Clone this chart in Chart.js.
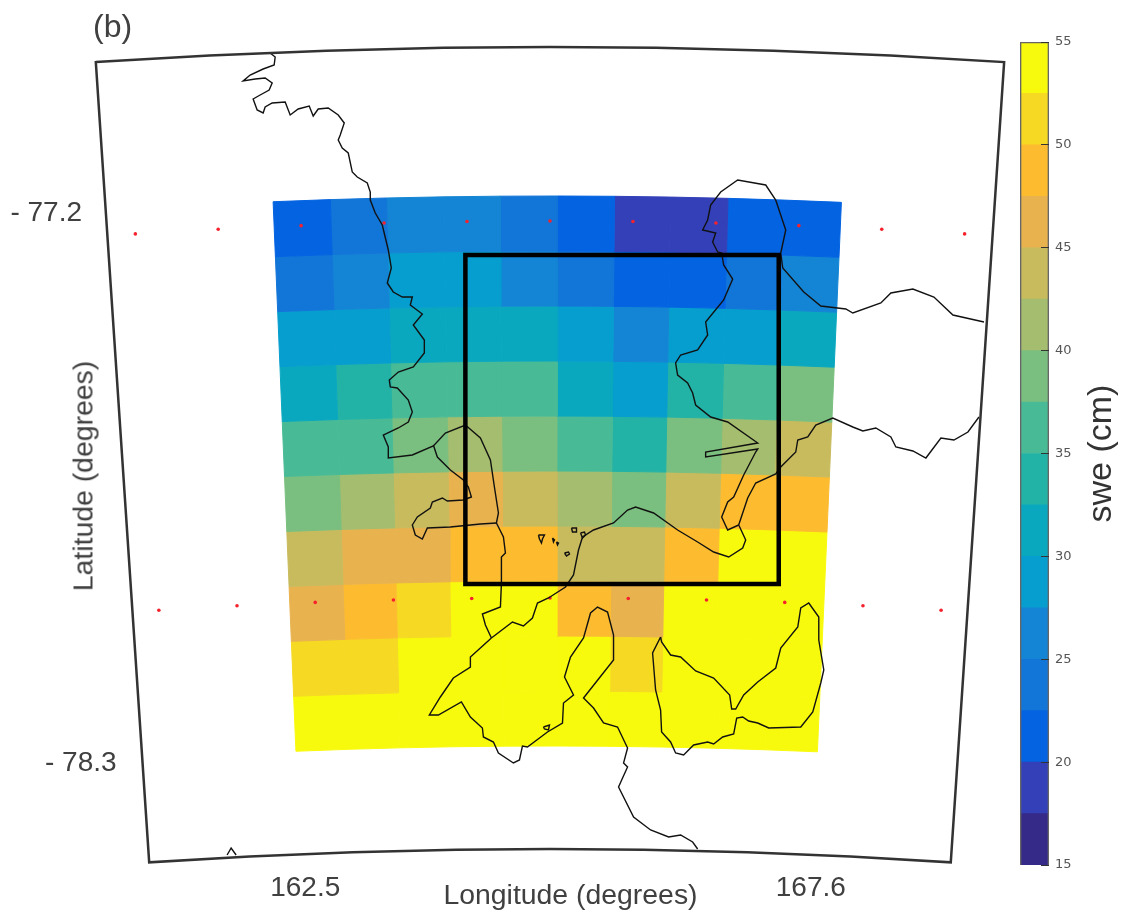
<!DOCTYPE html>
<html>
<head>
<meta charset="utf-8">
<title>swe map</title>
<script src="https://cdn.jsdelivr.net/npm/chart.js@4.4.1/dist/chart.umd.min.js"></script>
<style>
    body { margin: 0; background: #fff; width: 1126px; height: 915px; position: relative; overflow: hidden; }
    canvas { position: absolute; top: 0; }
    #mapChart { left: 0; }
    #barChart { left: 1010px; }
    #panelLabel { position: absolute; left: 93px; top: 8px; font: 32px "Liberation Sans", Arial, sans-serif; color: #404040; }
    #latLabel { position: absolute; left: 83px; top: 476px; white-space: nowrap; font: 28.4px "Liberation Sans", Arial, sans-serif; color: #404040;
        transform: translate(-50%, -50%) rotate(-90deg); }
</style>
</head>
<body>
<canvas id="mapChart" width="1015" height="915"></canvas>
<canvas id="barChart" width="116" height="915"></canvas>
<div id="panelLabel">(b)</div>
<div id="latLabel">Latitude (degrees)</div>
<script>
// Model grid (swe in cm), north row first
const gridLonEdges = [162.34, 162.89, 163.43, 163.98, 164.52, 165.07, 165.62, 166.16, 166.71, 167.25, 167.80];
const gridLatEdges = [-77.166, -77.276, -77.386, -77.496, -77.606, -77.716, -77.826, -77.936, -78.046, -78.156, -78.266];
const sweValues = [
    [21, 24, 26, 26, 24, 21, 19, 19, 21, 21],
    [24, 26, 29, 29, 26, 24, 21, 21, 24, 26],
    [29, 29, 31, 31, 31, 29, 26, 29, 29, 31],
    [31, 34, 36, 36, 36, 31, 29, 34, 36, 39],
    [36, 36, 39, 41, 39, 36, 34, 39, 41, 44],
    [39, 41, 44, 46, 44, 41, 39, 44, 49, 49],
    [44, 46, 46, 49, 49, 44, 44, 49, 54, 54],
    [46, 49, 51, 54, 54, 49, 46, 54, 54, 54],
    [51, 51, 54, 54, 54, 54, 51, 54, 54, 54],
    [54, 54, 54, 54, 54, 54, 54, 54, 54, 54]
];

// Colour bar
const barLevels = [15, 17.5, 20, 22.5, 25, 27.5, 30, 32.5, 35, 37.5, 40, 42.5, 45, 47.5, 50, 52.5, 55];
const barColors = ['#352a87', '#3340b8', '#0363e1', '#1275d8', '#1485d4', '#069dcf', '#0aa8bf', '#22b2a6',
    '#48bb96', '#7abf7f', '#a5bd6e', '#c8bb5e', '#e8b24f', '#fdbc2f', '#f5d923', '#f8fa0d'];
const barTicks = [15, 20, 25, 30, 35, 40, 45, 50, 55];

// Axis ticks
const lonTicks = [162.5, 167.55];
const lonTickLabels = ['162.5', '167.6'];
const latTickLabels = { '-77.2': '- 77.2', '-78.3': '- 78.3' };

// Red station dots
const dotLons = [161, 161.8, 162.6, 163.4, 164.2, 165, 165.8, 166.6, 167.4, 168.2, 169];
const dotLats = [-77.216, -77.97];

// Map frame and inner study box
const frameLons = [160.73, 161.8, 162.9, 164, 165, 166, 167.1, 168.2, 169.27];
const frameLats = [-76.868, -78.472];
const boxLons = [164.10, 167.23];
const boxLats = [-77.284, -77.942];

// Coast lines, [lon, lat]
const coastWest = [[162.15,-76.88],[162.2,-76.888],[162.19,-76.904],[162.08,-76.912],[161.95,-76.924],[161.88,-76.936],[162,-76.932],[162.1,-76.93],[162.17,-76.94],[162.14,-76.954],[162.05,-76.964],[161.98,-76.972],[162.02,-76.994],[162.08,-77],[162.1,-76.988],[162.17,-76.98],[162.3,-76.978],[162.35,-77.004],[162.43,-76.992],[162.54,-76.986],[162.58,-77.006],[162.63,-76.992],[162.73,-76.99],[162.83,-77.004],[162.89,-77.02],[162.85,-77.044],[162.83,-77.054],[162.87,-77.07],[162.93,-77.08],[162.97,-77.118],[163.02,-77.128],[163.12,-77.14],[163.15,-77.158],[163.15,-77.174],[163.2,-77.2],[163.27,-77.224],[163.33,-77.274],[163.36,-77.31],[163.32,-77.34],[163.38,-77.358],[163.47,-77.368],[163.57,-77.368],[163.55,-77.384],[163.67,-77.402],[163.58,-77.424],[163.69,-77.454],[163.69,-77.48],[163.58,-77.508],[163.43,-77.518],[163.34,-77.534],[163.35,-77.548],[163.42,-77.55],[163.53,-77.574],[163.57,-77.598],[163.53,-77.618],[163.43,-77.63],[163.28,-77.644],[163.33,-77.668],[163.33,-77.69],[163.57,-77.684],[163.78,-77.666],[163.9,-77.64],[164.1,-77.624],[164.25,-77.65],[164.35,-77.694],[164.39,-77.748],[164.43,-77.8],[164.41,-77.82],[164.48,-77.848],[164.5,-77.88],[164.46,-77.888],[164.46,-77.92],[164.46,-77.94],[164.45,-77.988],[164.27,-78.002],[164.3,-78.024],[164.36,-78.05]];
const coastInlet = [[163.78,-77.664],[163.82,-77.688],[163.95,-77.714],[164.08,-77.734],[164.13,-77.748],[164.16,-77.768],[164.08,-77.774],[163.92,-77.776],[163.87,-77.77],[163.77,-77.778],[163.75,-77.79],[163.62,-77.808],[163.57,-77.824],[163.6,-77.844],[163.67,-77.852],[163.72,-77.83],[163.95,-77.828],[164.25,-77.822],[164.41,-77.82]];
const coastSouth = [[164.36,-78.05],[164.15,-78.088],[164.15,-78.108],[163.98,-78.13],[163.85,-78.168],[163.74,-78.204],[163.83,-78.204],[164.06,-78.178],[164.15,-78.208],[164.27,-78.23],[164.28,-78.248],[164.38,-78.258],[164.43,-78.28],[164.58,-78.3],[164.64,-78.294],[164.67,-78.266],[164.72,-78.268],[164.92,-78.238],[165.07,-78.22],[165.08,-78.18],[165.18,-78.164],[165.09,-78.128],[165.15,-78.088],[165.28,-78.05],[165.35,-78],[165.42,-77.988],[165.52,-77.998],[165.58,-78.044],[165.58,-78.094],[165.28,-78.17],[165.38,-78.19],[165.48,-78.22],[165.62,-78.228],[165.72,-78.27],[165.68,-78.3],[165.72,-78.308],[165.67,-78.33],[165.63,-78.348],[165.78,-78.408],[165.95,-78.434],[166.13,-78.448],[166.25,-78.444],[166.37,-78.458],[166.42,-78.472]];
const coastEast = [[164.36,-78.05],[164.57,-78.018],[164.68,-78.026],[164.77,-78.01],[164.82,-77.98],[164.93,-77.97],[165.1,-77.948],[165.18,-77.924],[165.23,-77.874],[165.27,-77.848],[165.38,-77.834],[165.58,-77.82],[165.72,-77.794],[165.8,-77.788],[165.98,-77.8],[166.22,-77.834],[166.42,-77.858],[166.58,-77.878],[166.73,-77.888],[166.87,-77.87],[166.9,-77.854],[166.84,-77.828],[166.83,-77.824],[166.92,-77.77],[167,-77.74],[167.2,-77.722],[167.25,-77.708],[167.4,-77.678],[167.42,-77.654],[167.52,-77.648],[167.6,-77.624],[167.77,-77.61],[167.97,-77.628],[168.07,-77.636],[168.2,-77.63],[168.35,-77.648],[168.4,-77.668],[168.57,-77.676],[168.7,-77.69],[168.85,-77.65],[168.98,-77.654],[169.12,-77.638],[169.23,-77.608]];
const coastNorth = [[166.83,-77.824],[166.72,-77.834],[166.66,-77.808],[166.72,-77.778],[166.78,-77.768],[166.88,-77.724],[167,-77.678],[167.02,-77.672],[166.5,-77.688],[166.5,-77.678],[167.02,-77.66],[166.72,-77.618],[166.55,-77.608],[166.4,-77.584],[166.37,-77.56],[166.32,-77.54],[166.22,-77.524],[166.2,-77.5],[166.25,-77.484],[166.42,-77.474],[166.52,-77.444],[166.5,-77.418],[166.68,-77.374],[166.77,-77.332],[166.68,-77.304],[166.66,-77.28],[166.62,-77.278],[166.57,-77.258],[166.6,-77.24],[166.47,-77.234],[166.52,-77.214],[166.55,-77.184],[166.65,-77.158],[166.82,-77.134],[167.1,-77.144],[167.2,-77.174],[167.3,-77.234],[167.25,-77.28],[167.27,-77.31],[167.48,-77.358],[167.65,-77.386],[167.9,-77.392],[167.97,-77.4],[168.25,-77.38],[168.35,-77.36],[168.57,-77.352],[168.78,-77.368],[168.97,-77.404],[169.28,-77.418]];
const coastLoop = [[166.05,-78.048],[165.97,-78.08],[166,-78.154],[166.05,-78.194],[166.06,-78.238],[166.15,-78.258],[166.2,-78.28],[166.28,-78.284],[166.38,-78.264],[166.52,-78.258],[166.58,-78.262],[166.67,-78.248],[166.78,-78.242],[166.81,-78.21],[166.87,-78.208],[166.93,-78.216],[167.02,-78.22],[167.13,-78.23],[167.45,-78.228],[167.57,-78.198],[167.65,-78.14],[167.68,-78.114],[167.63,-78.054],[167.63,-78.008],[167.53,-77.98],[167.45,-77.99],[167.42,-78.028],[167.25,-78.07],[167.2,-78.11],[167.02,-78.138],[166.88,-78.164],[166.8,-78.192],[166.76,-78.192],[166.74,-78.164],[166.58,-78.13],[166.4,-78.116],[166.25,-78.088],[166.15,-78.084],[166.06,-78.058],[166.05,-78.048]];
const islandA = [[164.83,-77.844],[164.89,-77.844],[164.87,-77.852],[164.86,-77.86],[164.84,-77.852],[164.83,-77.844]];
const islandB = [[164.97,-77.85],[164.99,-77.854],[164.98,-77.858],[164.97,-77.85]];
const islandC = [[165.01,-77.858],[165.03,-77.86],[165.02,-77.864],[165.01,-77.858]];
const islandD = [[165.09,-77.88],[165.13,-77.878],[165.14,-77.882],[165.11,-77.886],[165.09,-77.88]];
const islandE = [[165.16,-77.83],[165.21,-77.83],[165.21,-77.838],[165.17,-77.838],[165.16,-77.83]];
const islandF = [[165.25,-77.84],[165.29,-77.838],[165.3,-77.844],[165.27,-77.85],[165.25,-77.84]];
const islandG = [[164.88,-78.228],[164.94,-78.224],[164.93,-78.234],[164.89,-78.232],[164.88,-78.228]];
const bumpSouth = [[161.72,-78.484],[161.76,-78.47],[161.81,-78.484]];
const coastLines = [coastWest, coastInlet, coastSouth, coastEast, coastNorth, coastLoop,
    islandA, islandB, islandC, islandD, islandE, islandF, islandG, bumpSouth];

// Conic projection of the model domain onto the flat map axes
const APEX_LAT = -90.516;
const LON_CENTRE = 164.945;
const RAD_PER_DEG = 0.01558;
function project(lon, lat) {
    const radius = lat - APEX_LAT;
    const theta = (lon - 165) * RAD_PER_DEG;
    return { x: LON_CENTRE + 5 * radius * Math.sin(theta), y: APEX_LAT + radius * Math.cos(theta) };
}

function colorFor(value) {
    let bin = 0;
    while (bin < barColors.length - 1 && value >= barLevels[bin + 1]) bin++;
    return barColors[bin];
}

function axisOff() {
    return { grid: { display: false }, border: { display: false } };
}

// keep tick labels from pushing the plot area in
function noLabelPadding(axis) {
    axis.paddingTop = 0;
    axis.paddingBottom = 0;
    axis.paddingLeft = 0;
    axis.paddingRight = 0;
}

const textColor = '#404040';
const mapDatasets = [];

// one filled polygon per grid cell
sweValues.forEach((row, r) => {
    row.forEach((value, c) => {
        const color = colorFor(value);
        mapDatasets.push({
            label: 'swe',
            data: [
                project(gridLonEdges[c], gridLatEdges[r]),
                project(gridLonEdges[c + 1], gridLatEdges[r]),
                project(gridLonEdges[c + 1], gridLatEdges[r + 1]),
                project(gridLonEdges[c], gridLatEdges[r + 1]),
                project(gridLonEdges[c], gridLatEdges[r])
            ],
            showLine: true,
            fill: 'shape',
            backgroundColor: color,
            borderColor: color,
            borderWidth: 1,
            pointRadius: 0,
            order: 10,
            clip: false
        });
    });
});

// stations
const dotPoints = [];
dotLats.forEach(lat => dotLons.forEach(lon => dotPoints.push(project(lon, lat))));
mapDatasets.push({
    label: 'stations', data: dotPoints, pointRadius: 1.8, pointBorderWidth: 0,
    pointBackgroundColor: '#f5222d', showLine: false, order: 5, clip: false
});

// coast
coastLines.forEach(line => {
    mapDatasets.push({
        label: 'coast',
        data: line.map(p => ({ x: p[0], y: p[1] })),
        showLine: true, borderColor: '#111', borderWidth: 1.4, pointRadius: 0, order: 3, clip: false
    });
});

// study box, last edge repeated so the first corner gets a proper join
mapDatasets.push({
    label: 'box',
    data: [
        { x: boxLons[0], y: boxLats[0] }, { x: boxLons[1], y: boxLats[0] },
        { x: boxLons[1], y: boxLats[1] }, { x: boxLons[0], y: boxLats[1] },
        { x: boxLons[0], y: boxLats[0] }, { x: boxLons[1], y: boxLats[0] }
    ],
    showLine: true, borderColor: '#000', borderWidth: 4.5, borderJoinStyle: 'miter', pointRadius: 0, order: 2, clip: false
});

// map frame
const framePoints = frameLons.map(lon => project(lon, frameLats[0]))
    .concat(frameLons.slice().reverse().map(lon => project(lon, frameLats[1])));
framePoints.push(framePoints[0], framePoints[1]);
mapDatasets.push({
    label: 'frame', data: framePoints, showLine: true, borderColor: '#333', borderWidth: 2.5,
    borderJoinStyle: 'miter', pointRadius: 0, order: 1, clip: false
});

new Chart(document.getElementById('mapChart'), {
    type: 'scatter',
    data: { datasets: mapDatasets },
    options: {
        responsive: false,
        animation: false,
        events: [],
        layout: { padding: { top: 20 } },
        plugins: { legend: { display: false }, tooltip: { enabled: false } },
        scales: {
            x: {
                ...axisOff(),
                type: 'linear', min: 160.75, max: 169.55,
                afterBuildTicks: axis => { axis.ticks = lonTicks.map(v => ({ value: v })); },
                afterFit: axis => { axis.height = 50; noLabelPadding(axis); },
                ticks: {
                    autoSkip: false, maxRotation: 0, padding: -2, color: textColor, font: { size: 28 },
                    callback: value => lonTickLabels[lonTicks.indexOf(value)]
                },
                title: {
                    display: true, text: 'Longitude (degrees)', color: textColor, font: { size: 28.4 },
                    padding: { top: 0, bottom: 2 }
                }
            },
            y: {
                ...axisOff(),
                type: 'linear', min: -78.504, max: -76.814, weight: 0,
                afterBuildTicks: axis => { axis.ticks = [{ value: -78.3 }]; },
                afterFit: axis => { axis.width = 45; noLabelPadding(axis); },
                ticks: {
                    autoSkip: false, mirror: true, padding: -85, color: textColor, font: { size: 28 },
                    callback: value => latTickLabels[String(value)]
                }
            },
            yUpper: {
                ...axisOff(),
                type: 'linear', position: 'left', min: -78.504, max: -76.814, weight: 1,
                afterBuildTicks: axis => { axis.ticks = [{ value: -77.2 }]; },
                afterFit: axis => { axis.width = 85; noLabelPadding(axis); },
                ticks: {
                    autoSkip: false, padding: -5, color: textColor, font: { size: 28 },
                    callback: value => latTickLabels[String(value)]
                }
            }
        }
    }
});

// colour bar, one floating bar per level
const barDatasets = barColors.map((color, i) => ({
    label: barLevels[i] + '-' + barLevels[i + 1],
    data: [[barLevels[i], barLevels[i + 1]]],
    backgroundColor: color,
    borderWidth: 0,
    barPercentage: 1,
    categoryPercentage: 1,
    grouped: false,
    order: 2
}));
barDatasets.push({
    label: 'outline',
    data: [[barLevels[0], barLevels[barLevels.length - 1]]],
    backgroundColor: 'transparent',
    borderColor: '#666',
    borderWidth: 1,
    barPercentage: 1,
    categoryPercentage: 1,
    grouped: false,
    order: 1
});

new Chart(document.getElementById('barChart'), {
    type: 'bar',
    data: { labels: ['swe'], datasets: barDatasets },
    options: {
        responsive: false,
        animation: false,
        events: [],
        layout: { padding: { top: 42, bottom: 50 } },
        plugins: { legend: { display: false }, tooltip: { enabled: false } },
        scales: {
            x: { display: false },
            y: {
                position: 'right', min: 15, max: 55,
                border: { display: false },
                grid: { drawOnChartArea: false, tickLength: -8, tickColor: '#333', tickWidth: 1, z: 1 },
                afterBuildTicks: axis => { axis.ticks = barTicks.map(v => ({ value: v })); },
                afterFit: axis => { axis.width = 77; noLabelPadding(axis); },
                ticks: { padding: 14, color: '#555', font: { family: '"DejaVu Sans"', size: 13 } }
            },
            yTitle: {
                ...axisOff(),
                position: 'left', min: 15, max: 55,
                ticks: { display: false },
                afterFit: axis => { axis.width = 10; },
                title: {
                    display: true, text: 'swe (cm)', color: '#333', font: { size: 34 },
                    padding: { top: 71, bottom: 0 }
                }
            }
        }
    }
});
</script>
</body>
</html>
